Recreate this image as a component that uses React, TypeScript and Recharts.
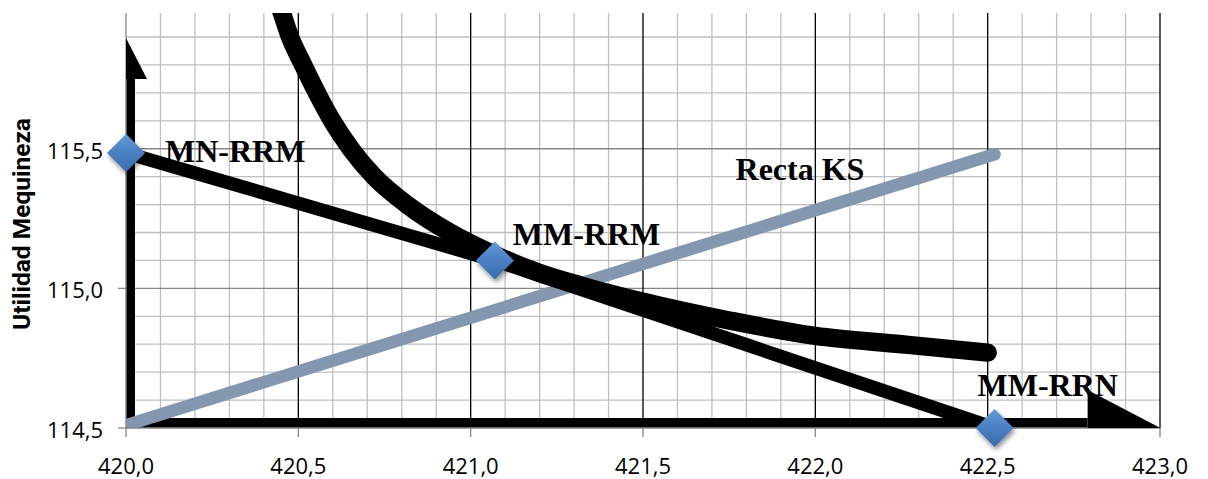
import React from 'react';
import { ComposedChart, Line, Scatter, XAxis, YAxis, CartesianGrid, LabelList } from 'recharts';

// ---- axes / ticks ----
const xTicks = [420, 420.5, 421, 421.5, 422, 422.5, 423];
const yTicks = [114.5, 115.0, 115.5];
const xMinor = [420.1, 420.2, 420.3, 420.4, 420.6, 420.7, 420.8, 420.9, 421.1, 421.2, 421.3, 421.4, 421.6, 421.7, 421.8, 421.9, 422.1, 422.2, 422.3, 422.4, 422.6, 422.7, 422.8, 422.9];
const yMinor = [114.6, 114.7, 114.8, 114.9, 115.1, 115.2, 115.3, 115.4, 115.6, 115.7, 115.8, 115.9];
const yMajorGrid = [115.0, 115.5];
const xMajorGrid = [420.5, 421, 421.5, 422, 422.5, 423];
const X_DOMAIN: [number, number] = [420, 423];
const Y_DOMAIN: [number, number] = [114.5, 115.986];

// ---- series ----
const curveX = [420.42, 420.452, 420.476, 420.514, 420.554, 420.598, 420.652, 420.72, 420.815, 420.94, 421.07, 421.2, 421.32, 421.5, 421.75, 422.0, 422.25, 422.5];
const curveY = [116.1, 115.987, 115.9, 115.8, 115.7, 115.6, 115.5, 115.4, 115.3, 115.2, 115.12, 115.055, 115.01, 114.952, 114.885, 114.83, 114.8, 114.77];

const mnX = [420.0, 421.07, 422.52];
const mnY = [115.485, 115.1, 114.5];

const ksX = [420.0, 422.52];
const ksY = [114.51, 115.48];
const ksLabel = 'Recta KS';

const axisVX = [420.0, 420.0];
const axisVY = [114.5, 115.75];
const axisHX = [420.0, 422.79];
const axisHY = [114.5, 114.5];

const markerX = [420.0, 421.07, 422.52];
const markerY = [115.485, 115.1, 114.5];
const markerLabels = ['MN-RRM', 'MM-RRM', 'MM-RRN'];

const yTitle = 'Utilidad Mequineza';

// ---- build tables ----
const zip = (xs: number[], ys: number[]) => xs.map((x, i) => ({ x, y: ys[i] }));
const curveData = zip(curveX, curveY);
const mnData = zip(mnX, mnY);
const ksData = zip(ksX, ksY);
const axisVData = zip(axisVX, axisVY);
const axisHData = zip(axisHX, axisHY);
const markerData = markerX.map((x, i) => ({ x, y: markerY[i], label: markerLabels[i] }));

// ---- styles ----
const labelOffsets: Record<string, [number, number]> = {
  'MN-RRM': [39, 9],
  'MM-RRM': [18, -15],
  'MM-RRN': [-17, -32],
};
const serifLabel = { fontFamily: '"Liberation Serif", "Times New Roman", serif', fontWeight: 700, fontSize: 32, fill: '#000' };
const fmt = (v: number) => v.toFixed(1).replace('.', ',');

const Diamond = (p: any) => {
  const { cx, cy, payload, index } = p;
  const r = 19;
  const off = labelOffsets[payload.label] || [0, 0];
  const gid = `dg${index}`;
  const fid = `ds${index}`;
  return (
    <g>
      <defs>
        <linearGradient id={gid} x1="0" y1="0" x2="0" y2="1">
          <stop offset="0%" stopColor="#629AD8" />
          <stop offset="50%" stopColor="#4A80C2" />
          <stop offset="100%" stopColor="#3A6CAA" />
        </linearGradient>
        <filter id={fid} x="-50%" y="-50%" width="200%" height="200%">
          <feDropShadow dx="1.5" dy="3" stdDeviation="2.5" floodColor="#000" floodOpacity="0.45" />
        </filter>
      </defs>
      <path d={`M${cx},${cy - r} L${cx + r},${cy} L${cx},${cy + r} L${cx - r},${cy} Z`} fill={`url(#${gid})`} filter={`url(#${fid})`} />
      <text x={cx + off[0]} y={cy + off[1]} style={serifLabel as any}>{payload.label}</text>
    </g>
  );
};

const vArrowDot = (p: any) => {
  const { cx, cy, index } = p;
  if (index !== axisVData.length - 1) return <g key={`va${index}`} />;
  return <polygon key={`va${index}`} points={`${cx},${cy} ${cx + 21},${cy} ${cx},${cy - 41}`} fill="#000" />;
};
const hArrowDot = (p: any) => {
  const { cx, cy, index } = p;
  if (index !== axisHData.length - 1) return <g key={`ha${index}`} />;
  return <polygon key={`ha${index}`} points={`${cx},${cy} ${cx},${cy - 38} ${cx + 73},${cy}`} fill="#000" />;
};

const ksLabelContent = (p: any) => {
  const { x, y, index } = p;
  if (index !== ksData.length - 1) return null;
  return <text x={x - 259} y={y + 26} style={serifLabel as any}>{ksLabel}</text>;
};

const YTitle = (p: any) => {
  const vb = p.viewBox || { x: 0, y: 0, width: 0, height: 0 };
  const x = vb.x + 13.5;
  const y = vb.y + vb.height / 2 + 3.5;
  return (
    <text x={x} y={y} transform={`rotate(-90, ${x}, ${y})`} textAnchor="middle" dy="0.355em"
      style={{ fontFamily: 'Roboto, "Open Sans", sans-serif', fontWeight: 700, fontSize: 24.5, fill: '#000' }}>
      {yTitle}
    </text>
  );
};

const tickStyle = { fontFamily: '"Open Sans", sans-serif', fontSize: 22, fill: '#000' };

export default function App() {
  return (
    <ComposedChart width={1200} height={471} margin={{ top: 5, right: 48, bottom: 0, left: 0 }}>
      <CartesianGrid stroke="#BFBFBF" strokeWidth={1.3} horizontalValues={yMinor} verticalValues={xMinor} />
      <CartesianGrid stroke="#878787" strokeWidth={1.3} horizontalValues={yMajorGrid} vertical={false} />
      <CartesianGrid stroke="#000" strokeWidth={1.3} verticalValues={xMajorGrid} horizontal={false} />
      <XAxis type="number" dataKey="x" domain={X_DOMAIN} ticks={xTicks} tickFormatter={fmt}
        height={51} tickSize={9} tickMargin={21} stroke="#868686" strokeWidth={1.3}
        tick={tickStyle} tickLine={{ stroke: '#868686', strokeWidth: 1.3 }} interval={0} />
      <XAxis xAxisId="c" type="number" dataKey="x" domain={X_DOMAIN} allowDataOverflow hide />
      <YAxis type="number" dataKey="y" domain={Y_DOMAIN} ticks={yTicks} tickFormatter={fmt}
        width={118} tickSize={8} tickMargin={15} stroke="#868686" strokeWidth={1.3}
        tick={{ ...tickStyle, dy: 2 } as any} tickLine={{ stroke: '#868686', strokeWidth: 1.3 }} interval={0}
        label={<YTitle />} />
      <YAxis yAxisId="c" type="number" dataKey="y" domain={Y_DOMAIN} allowDataOverflow hide />

      <Line xAxisId="c" yAxisId="c" data={axisVData} dataKey="y" type="linear" stroke="#000" strokeWidth={18}
        strokeLinecap="butt" dot={vArrowDot} activeDot={false} isAnimationActive={false} legendType="none" />
      <Line xAxisId="c" yAxisId="c" data={axisHData} dataKey="y" type="linear" stroke="#000" strokeWidth={20}
        strokeLinecap="butt" dot={hArrowDot} activeDot={false} isAnimationActive={false} legendType="none" />

      <Line xAxisId="c" yAxisId="c" data={ksData} dataKey="y" type="linear" stroke="#8497B0" strokeWidth={12.5}
        strokeLinecap="round" dot={false} activeDot={false} isAnimationActive={false}>
        <LabelList dataKey="y" content={ksLabelContent} />
      </Line>

      <Line xAxisId="c" yAxisId="c" data={mnData} dataKey="y" type="linear" stroke="#000" strokeWidth={13.5}
        strokeLinecap="round" strokeLinejoin="round" dot={false} activeDot={false} isAnimationActive={false} />

      <Line xAxisId="c" yAxisId="c" data={curveData} dataKey="y" type="monotone" stroke="#000" strokeWidth={18.5}
        strokeLinecap="round" strokeLinejoin="round" dot={false} activeDot={false} isAnimationActive={false} />

      <Scatter data={markerData} dataKey="y" shape={<Diamond />} isAnimationActive={false} />
    </ComposedChart>
  );
}
